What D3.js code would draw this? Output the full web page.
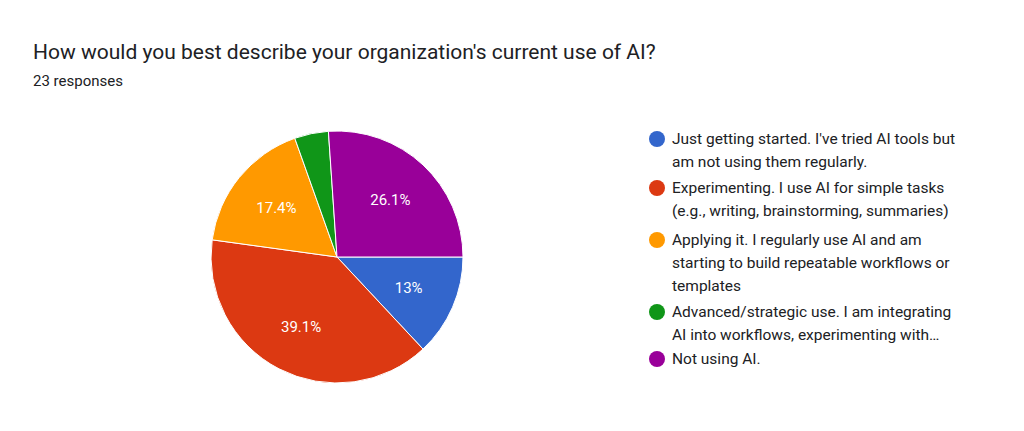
<!DOCTYPE html>
<html><head><meta charset="utf-8">
<script src="https://cdn.jsdelivr.net/npm/d3@7"></script>
<style>body{margin:0;background:#fff;font-family:Roboto,Arial,sans-serif}</style>
</head><body><svg width="1024" height="431"></svg>
<script>
const categories = [
  ["Just getting started. I've tried AI tools but", "am not using them regularly."],
  ["Experimenting. I use AI for simple tasks", "(e.g., writing, brainstorming, summaries)"],
  ["Applying it. I regularly use AI and am", "starting to build repeatable workflows or", "templates"],
  ["Advanced/strategic use. I am integrating", "AI into workflows, experimenting with…"],
  ["Not using AI."]
];
const counts = [3, 9, 4, 1, 6];
const colors = ["#3366cc", "#dc3912", "#ff9900", "#109618", "#990099"];

const svg = d3.select("svg");
svg.append("text").attr("x", 33).attr("y", 59).attr("font-size", 21).attr("fill", "#202124")
  .text("How would you best describe your organization's current use of AI?");
svg.append("text").attr("x", 33).attr("y", 86).attr("font-size", 15).attr("fill", "#202124")
  .text("23 responses");

const total = d3.sum(counts);
const r = 126;
const pie = d3.pie().sort(null).startAngle(Math.PI / 2).endAngle(Math.PI / 2 + 2 * Math.PI);
const arc = d3.arc().innerRadius(0).outerRadius(r);
const labelArc = d3.arc().innerRadius(r * 0.62).outerRadius(r * 0.62);
const g = svg.append("g").attr("transform", "translate(337,257)");
const arcs = pie(counts);
g.selectAll("path").data(arcs).join("path")
  .attr("d", arc).attr("fill", (d, i) => colors[i]).attr("stroke", "#fff").attr("stroke-width", 1);
g.selectAll("text").data(arcs.filter(d => d.value / total > 0.06)).join("text")
  .attr("transform", d => `translate(${labelArc.centroid(d)})`)
  .attr("text-anchor", "middle").attr("dy", "0.35em").attr("fill", "#fff").attr("font-size", 15)
  .text(d => { const p = Math.round(d.value / total * 1000) / 10; return p + "%"; });

const rowY = [139, 188, 240, 312, 359];
const lg = svg.append("g");
categories.forEach((lines, i) => {
  lg.append("circle").attr("cx", 657).attr("cy", rowY[i]).attr("r", 8).attr("fill", colors[i]);
  lines.forEach((t, j) => {
    lg.append("text").attr("x", 672).attr("y", rowY[i] + j * 23).attr("dy", "0.35em")
      .attr("font-size", 15.5).attr("fill", "#202124").text(t);
  });
});
</script></body></html>
